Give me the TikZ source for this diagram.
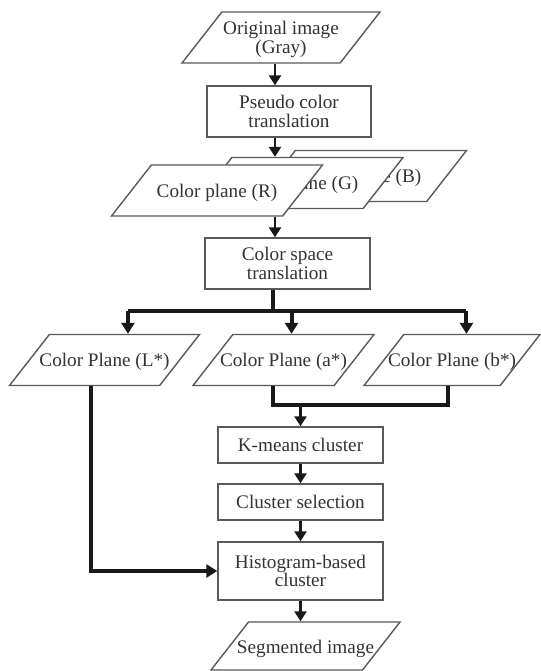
\documentclass[tikz,border=0pt]{standalone}
\usepackage{fontspec}
\setmainfont{Liberation Serif}
\usetikzlibrary{arrows.meta,shapes.geometric,calc}

\begin{document}
\begin{tikzpicture}[
    x=0.5pt, y=-0.5pt,
    font=\fontsize{9.6}{9.3}\selectfont,
    procbox/.style={rectangle, draw=black!65, line width=0.7pt, fill=white, text=black!80, align=center, inner sep=0, minimum width=82.5pt},
    iobox/.style={trapezium, trapezium left angle=52, trapezium right angle=128, trapezium stretches body,
        draw=black!65, line width=0.7pt, fill=white, text=black!80, align=center, inner ysep=0, inner xsep=-12pt, text height=16pt, text depth=9.5pt},
    flow/.style={draw=black!90, line width=1.3pt, -{Triangle[width=6pt,length=5pt]}},
    trunk/.style={draw=black!90, line width=2pt},
    branch/.style={trunk, -{Triangle[width=6.5pt,length=5.5pt]}}]
\useasboundingbox (0,0) rectangle (541,671);

\coordinate (spine) at (275,0);

\node[iobox, minimum width=99pt, text height=20.5pt, text depth=5pt] (orig) at (281,37.5) {Original image\\(Gray)};
\node[procbox, minimum height=25.5pt, minimum width=82pt] (pseudo) at (289,111.5) {Pseudo color\\translation};
\node[iobox, minimum width=105.5pt] (planeB) at (361,176) {Color plane (B)};
\node[iobox, minimum width=105.5pt] (planeG) at (297.5,183) {Color plane (G)};
\node[iobox, minimum width=105.5pt] (planeR) at (217,190.5) {Color plane (R)};
\node[procbox, minimum height=25.5pt] (cspace) at (287.5,263.5) {Color space\\translation};

\node[iobox, minimum width=95pt] (Lplane) at (104.5,360) {Color Plane (L*)};
\node[iobox, minimum width=90.5pt] (aplane) at (283.5,360) {Color Plane (a*)};
\node[iobox, minimum width=88pt] (bplane) at (452,360) {Color Plane (b*)};

\node[procbox, minimum height=18pt] (kmeans) at (300.5,445) {K-means cluster};
\node[procbox, minimum height=18pt] (csel) at (300.5,502) {Cluster selection};
\node[procbox, minimum height=29pt] (hist) at (300.5,571) {Histogram-based\\cluster};
\node[iobox, minimum width=94.5pt, text height=15.5pt, text depth=8.5pt] (seg) at (305.5,646) {Segmented image};

\path[flow] (orig.south -| spine) -- (pseudo.north -| spine);
\path[flow] (pseudo.south -| spine) -- (planeG.north -| spine);
\path[flow] (planeR.south -| spine) -- (cspace.north -| spine);

\coordinate (split) at (273,311);
\coordinate (Lin) at ([xshift=1.5pt]Lplane.top side);
\coordinate (ain) at ([xshift=4pt]aplane.north);
\coordinate (bin) at ([xshift=-3pt]bplane.top side);
\path[trunk] (cspace.south -| split) -- (split);
\path[trunk] (split -| Lin) -- (split -| bin);
\path[branch] (split -| Lin) -- (Lin);
\path[branch] (split -| ain) -- (ain);
\path[branch] (split -| bin) -- (bin);

\coordinate (merge) at (301,405);
\coordinate (aout) at ([xshift=5pt]aplane.bottom side);
\coordinate (bout) at ([xshift=8pt]bplane.bottom side);
\path[trunk] (aout) -- (aout |- merge) -- (bout |- merge) -- (bout);
\path[flow] (kmeans.north |- merge) -- (kmeans.north);
\path[flow] (kmeans.south) -- (csel.north);
\path[flow] (csel.south) -- (hist.north);
\path[flow] (hist.south) -- (seg.north -| hist.south);

\coordinate (lout) at ([xshift=3.5pt]Lplane.bottom side);
\path[branch] (lout) |- (hist.west);



\end{tikzpicture}
\end{document}
